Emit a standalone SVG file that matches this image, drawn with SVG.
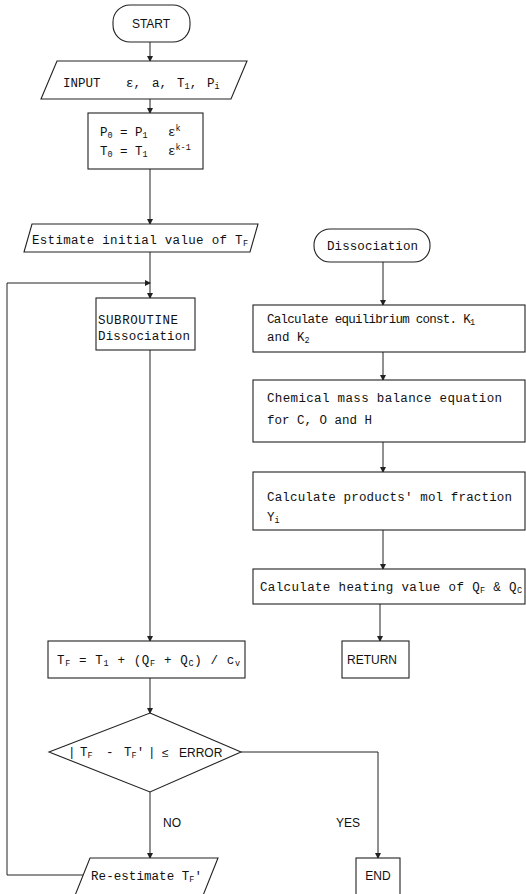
<svg xmlns="http://www.w3.org/2000/svg" width="526" height="894" viewBox="0 0 526 894">
<defs>
<style>
.s{fill:#fff;stroke:#222;stroke-width:1.1}
.c{fill:none;stroke:#222;stroke-width:1}
.m{font-family:"Liberation Mono","DejaVu Sans Mono",monospace;font-size:12.5px;fill:#111}
.n{font-family:"Liberation Sans Narrow","Liberation Sans",sans-serif;font-size:12px;fill:#111}
.sub{font-size:8.5px}
</style>
<marker id="a" markerWidth="6" markerHeight="6" refX="5" refY="3" orient="auto" markerUnits="userSpaceOnUse">
<path d="M0,0 L6,3 L0,6 Z" fill="#222"/>
</marker>
</defs>
<rect width="526" height="894" fill="#fff"/>
<g id="connectors">
<path class="c" d="M150,42 V61" marker-end="url(#a)"/>
<path class="c" d="M150,99 V113" marker-end="url(#a)"/>
<path class="c" d="M150,169 V224" marker-end="url(#a)"/>
<path class="c" d="M150,252 V298" marker-end="url(#a)"/>
<path class="c" d="M83,875 H7 V283 H150" marker-end="url(#a)"/>
<path class="c" d="M150,350 V641" marker-end="url(#a)"/>
<path class="c" d="M150,678 V713" marker-end="url(#a)"/>
<path class="c" d="M150,792 V858" marker-end="url(#a)"/>
<path class="c" d="M241,752 H378 V858" marker-end="url(#a)"/>
<path class="c" d="M383,262 V305" marker-end="url(#a)"/>
<path class="c" d="M383,352 V380" marker-end="url(#a)"/>
<path class="c" d="M383,442 V472" marker-end="url(#a)"/>
<path class="c" d="M383,530 V569" marker-end="url(#a)"/>
<path class="c" d="M380,604 V641" marker-end="url(#a)"/>
<text class="n" x="172" y="827" font-size="11" text-anchor="middle">NO</text>
<text class="n" x="348" y="827" font-size="11" text-anchor="middle">YES</text>
</g>
<g id="start">
<rect class="s" x="113" y="5" width="77" height="37" rx="17" ry="17"/>
<text class="n" x="151" y="28" text-anchor="middle">START</text>
</g>
<g id="input">
<path class="s" d="M57,61 H247 L231,99 H41 Z"/>
<text class="m" x="63" y="87" font-size="11.5">INPUT</text>
<text class="m" x="126" y="87">ε,</text>
<text class="m" x="152" y="87">a,</text>
<text class="m" x="177" y="87">T<tspan class="sub" dy="2">1</tspan><tspan dy="-2">,</tspan></text>
<text class="m" x="207" y="87">P<tspan class="sub" dy="2">i</tspan></text>
</g>
<g id="init">
<rect class="s" x="88" y="113" width="115" height="56"/>
<text class="m" x="100" y="136">P<tspan class="sub" dy="2">0</tspan><tspan dy="-2" x="120">=</tspan><tspan x="135">P</tspan><tspan class="sub" dy="2">1</tspan><tspan dy="-2" x="168">ε</tspan><tspan class="sub" dy="-5">k</tspan></text>
<text class="m" x="100" y="155">T<tspan class="sub" dy="2">0</tspan><tspan dy="-2" x="120">=</tspan><tspan x="135">T</tspan><tspan class="sub" dy="2">1</tspan><tspan dy="-2" x="168">ε</tspan><tspan class="sub" dy="-5">k-1</tspan></text>
</g>
<g id="estimate">
<path class="s" d="M32,224 H258 L250,252 H24 Z"/>
<text class="m" x="32" y="244" textLength="216">Estimate initial value of T<tspan class="sub" dy="2">F</tspan></text>
</g>
<g id="subroutine">
<rect class="s" x="96" y="298" width="99" height="52"/>
<text class="m" x="98" y="324" textLength="80">SUBROUTINE</text>
<text class="m" x="98" y="340" textLength="92">Dissociation</text>
</g>
<g id="formula">
<rect class="s" x="48" y="641" width="197" height="37"/>
<text class="m" x="57" y="664" textLength="183">T<tspan class="sub" dy="2">F</tspan><tspan dy="-2"> = T</tspan><tspan class="sub" dy="2">1</tspan><tspan dy="-2"> + (Q</tspan><tspan class="sub" dy="2">F</tspan><tspan dy="-2"> + Q</tspan><tspan class="sub" dy="2">C</tspan><tspan dy="-2">) / c</tspan><tspan class="sub" dy="2">v</tspan></text>
</g>
<g id="decision">
<path class="s" d="M150,713 L241,752 L150,792 L49,752 Z"/>
<text class="m" x="68" y="756">|<tspan x="80">T</tspan><tspan class="sub" dy="2">F</tspan><tspan dy="-2" x="106">-</tspan><tspan x="124">T</tspan><tspan class="sub" dy="2">F</tspan><tspan dy="-2">'</tspan><tspan x="148">|</tspan></text>
<text class="n" x="162" y="757" font-size="14">≤</text>
<text class="n" x="179" y="757" font-size="12">ERROR</text>
</g>
<g id="reestimate">
<path class="s" d="M90,858 H218 L202,898 H74 Z"/>
<text class="m" x="91" y="880" textLength="111">Re-estimate T<tspan class="sub" dy="2">F</tspan><tspan dy="-2">'</tspan></text>
</g>
<g id="end">
<rect class="s" x="356" y="858" width="44" height="40"/>
<text class="n" x="378" y="880" text-anchor="middle">END</text>
</g>
<g id="dissociation">
<rect class="s" x="314" y="229" width="116" height="33" rx="16" ry="16"/>
<text class="m" x="327" y="250" textLength="91">Dissociation</text>
</g>
<g id="equilibrium">
<rect class="s" x="253" y="305" width="272" height="47"/>
<text class="m" x="267" y="323" textLength="208">Calculate equilibrium const. K<tspan class="sub" dy="2">1</tspan></text>
<text class="m" x="267" y="341">and K<tspan class="sub" dy="2">2</tspan></text>
</g>
<g id="massbalance">
<rect class="s" x="253" y="380" width="272" height="62"/>
<text class="m" x="267" y="402" textLength="235">Chemical mass balance equation</text>
<text class="m" x="267" y="424">for C, O and H</text>
</g>
<g id="molfraction">
<rect class="s" x="253" y="472" width="272" height="58"/>
<text class="m" x="267" y="501" textLength="245">Calculate products' mol fraction</text>
<text class="m" x="267" y="521">Y<tspan class="sub" dy="2">i</tspan></text>
</g>
<g id="heating">
<rect class="s" x="253" y="569" width="272" height="35"/>
<text class="m" x="260" y="591" textLength="262">Calculate heating value of Q<tspan class="sub" dy="2">F</tspan><tspan dy="-2"> &amp; Q</tspan><tspan class="sub" dy="2">C</tspan></text>
</g>
<g id="return">
<rect class="s" x="342" y="641" width="67" height="37"/>
<text class="n" x="372" y="664" text-anchor="middle">RETURN</text>
</g>
</svg>
